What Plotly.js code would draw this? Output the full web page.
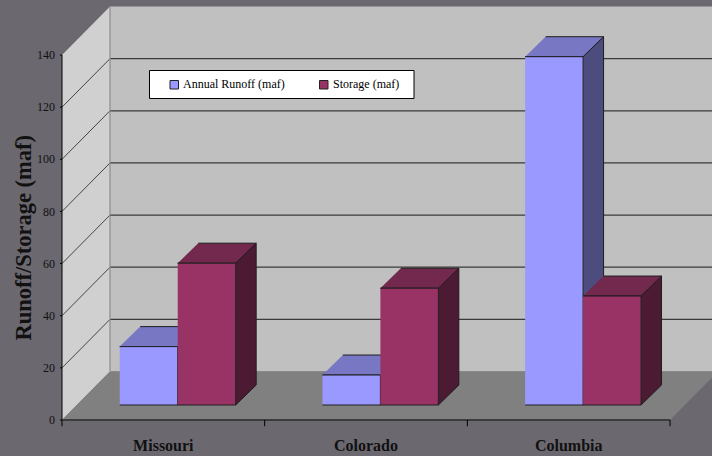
<!DOCTYPE html>
<html>
<head>
<meta charset="utf-8">
<script src="https://cdn.plot.ly/plotly-3.0.1.min.js"></script>
<style>html,body{margin:0;padding:0;background:#6b6870;}#chart{width:712px;height:456px;}</style>
</head>
<body>
<div id="chart"></div>
<script>
// ---- data ----
const categories = ['Missouri', 'Colorado', 'Columbia'];
const runoff = [22.4, 11.5, 133.6];
const storage = [54.4, 44.8, 41.8];
const seriesNames = ['Annual Runoff (maf)', 'Storage (maf)'];
const yTicks = [0, 20, 40, 60, 80, 100, 120, 140];
const yTitle = 'Runoff/Storage (maf)';

// ---- style / geometry (in axis units) ----
const YMAX = 140;
const WALL_DX = 0.2368, WALL_DY = 18.6;
const BAR_W = 0.286, BAR_DX = 0.101, BAR_DY = 7.67;
const BAR_SHIFT = 0.071, BAR_BASE = 5.75;
const XR = [-0.00987, 3.207], YR = [-3.069, 161.1];
const colors = {
  runoff: {front: '#9999ff', top: '#7777c4', side: '#4c4c7e'},
  storage: {front: '#993366', top: '#73284d', side: '#4d1a34'}
};
const FONT = "'Liberation Serif', 'Times New Roman', serif";
const PLOT_L = 60, PLOT_W = 652, PLOT_H = 428;
const px = v => (v - PLOT_L) / PLOT_W;     // pixel -> paper x
const py = v => 1 - v / PLOT_H;            // pixel -> paper y

const traces = [];
function poly(xs, ys, fill, lineColor, lineWidth) {
  traces.push({type: 'scatter', mode: 'lines', x: xs, y: ys, fill: 'toself',
    fillcolor: fill, line: {color: lineColor || fill, width: lineWidth === undefined ? 0 : lineWidth},
    hoverinfo: 'skip', showlegend: false});
}
function line(xs, ys, color, width) {
  traces.push({type: 'scatter', mode: 'lines', x: xs, y: ys,
    line: {color: color, width: width}, hoverinfo: 'skip', showlegend: false});
}

// walls & floor
const nCat = categories.length;
poly([WALL_DX, WALL_DX, XR[1] + 0.1, XR[1] + 0.1], [WALL_DY, YMAX + WALL_DY, YMAX + WALL_DY, WALL_DY], '#c0c0c0');
poly([0, 0, WALL_DX, WALL_DX], [0, YMAX, YMAX + WALL_DY, WALL_DY], '#d0d0d0');
poly([0, nCat, nCat + WALL_DX, WALL_DX], [0, 0, WALL_DY, WALL_DY], '#808080');
yTicks.forEach(v => {
  if (v > 0 && v < YMAX) {
    line([WALL_DX, XR[1] + 0.1], [v + WALL_DY, v + WALL_DY], '#3a3a3a', 1.2);
    line([0, WALL_DX], [v, v + WALL_DY], '#222222', 0.8);
  }
});
line([WALL_DX, WALL_DX], [WALL_DY, YMAX + WALL_DY], '#8c8c8c', 1.2);

// bars
function bar3d(x0, value, c) {
  const x1 = x0 + BAR_W, b = BAR_BASE, t = BAR_BASE + value;
  const oc = '#1e1e1e';
  poly([x1, x1 + BAR_DX, x1 + BAR_DX, x1], [b, b + BAR_DY, t + BAR_DY, t], c.side, oc, 1);
  poly([x0, x1, x1 + BAR_DX, x0 + BAR_DX], [t, t, t + BAR_DY, t + BAR_DY], c.top, oc, 1);
  poly([x0, x1, x1, x0], [b, b, t, t], c.front, oc, 1);
}
categories.forEach((cat, i) => {
  const center = i + 0.5 + BAR_SHIFT;
  bar3d(center - BAR_W, runoff[i], colors.runoff);
  bar3d(center, storage[i], colors.storage);
});

// axes lines & ticks
line([0, 0], [0, YMAX], '#000000', 1);
yTicks.forEach(v => line([-0.025, 0], [v, v], '#000000', 1));
line([0, nCat], [0, 0], '#3c3c3c', 2);
for (let i = 0; i <= nCat; i++) line([i, i], [0, -2.4], '#000000', 1);

// legend (drawn as layout shapes + annotations)
const legendSwatchX = [170, 319.5];
const legendTextX = [180.5, 331];
const legendColors = [colors.runoff.front, colors.storage.front];
const shapes = [
  {type: 'rect', xref: 'paper', yref: 'paper', x0: px(149.5), x1: px(414), y0: py(98.5), y1: py(70.5),
   fillcolor: '#ffffff', line: {color: '#000000', width: 1}, layer: 'above'}
];
const annotations = [];
seriesNames.forEach((name, k) => {
  shapes.push({type: 'rect', xref: 'paper', yref: 'paper', x0: px(legendSwatchX[k]), x1: px(legendSwatchX[k] + 8.5),
    y0: py(89), y1: py(80.5), fillcolor: legendColors[k], line: {color: '#222', width: 1}, layer: 'above'});
  annotations.push({text: name, xref: 'paper', yref: 'paper', x: px(legendTextX[k]), y: py(84.5),
    xanchor: 'left', yanchor: 'middle', showarrow: false,
    font: {family: FONT, size: 12, color: '#000'}});
});
annotations.push({text: yTitle, xref: 'paper', yref: 'y', x: px(23), y: YMAX / 2,
  xanchor: 'center', yanchor: 'middle', textangle: -90, showarrow: false,
  font: {family: FONT, size: 22.5, color: '#111', weight: 'bold'}});

const layout = {
  width: 712, height: 456,
  margin: {l: PLOT_L, r: 0, t: 0, b: 456 - PLOT_H, pad: 0},
  paper_bgcolor: '#6b6870', plot_bgcolor: '#6b6870',
  showlegend: false,
  xaxis: {range: XR, showgrid: false, zeroline: false, showline: false, ticks: '',
    tickvals: categories.map((c, i) => i + 0.5), ticktext: categories,
    tickfont: {family: FONT, size: 16, color: '#111', weight: 'bold'}, ticklabelstandoff: 6,
    fixedrange: true},
  yaxis: {range: YR, showgrid: false, zeroline: false, showline: false, ticks: '',
    tickvals: yTicks, tickfont: {family: FONT, size: 12, color: '#111'}, ticklabelstandoff: 4,
    fixedrange: true},
  shapes: shapes,
  annotations: annotations
};
Plotly.newPlot('chart', traces, layout, {displayModeBar: false, staticPlot: true});
</script>
</body>
</html>
